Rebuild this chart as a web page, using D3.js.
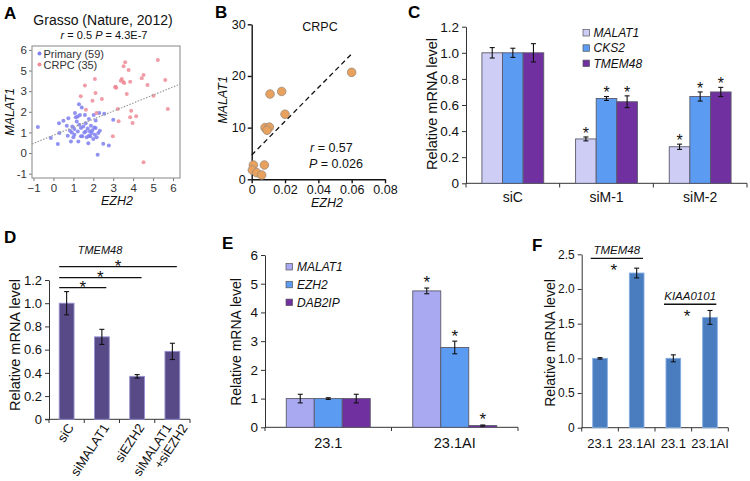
<!DOCTYPE html>
<html><head><meta charset="utf-8">
<script src="https://cdn.jsdelivr.net/npm/d3@7"></script>
<style>
body{margin:0;background:#fff;}
svg{display:block;font-family:"Liberation Sans",Arial,sans-serif;}
</style></head><body>
<svg id="chart" width="750" height="481"></svg>
<script>
// ================= DATA =================
// Panel A  (Grasso, Nature 2012)
const aXTicks = [-1,0,1,2,3,4,5,6];
const aYTicks = [-1,0,1,2,3,4,5];
const aYTickLabels = ["-1","0","1","2","3","5","6"];
const aPrimary = [[-0.78,1.26],[-0.13,0.73],[0.22,0.44],[0.28,1.45],[0.67,1.32],[0.72,0.84],[0.83,1.08],[0.88,0.56],[0.92,1.0],[0.95,1.29],[1.0,0.76],[1.05,1.16],[1.08,1.94],[1.12,1.74],[1.17,1.53],[1.22,1.05],[1.25,0.56],[1.28,2.37],[1.3,1.37],[1.33,1.85],[1.38,1.21],[1.42,2.21],[1.45,0.81],[1.5,1.29],[1.55,1.0],[1.58,1.85],[1.62,1.45],[1.67,0.77],[1.72,1.19],[1.75,0.48],[1.78,1.65],[1.83,1.05],[1.85,0.81],[1.88,1.32],[1.92,0.97],[1.95,1.1],[2.0,0.68],[2.02,1.85],[2.05,1.24],[2.08,0.89],[2.12,1.58],[2.17,0.77],[2.22,-0.08],[2.25,0.97],[2.3,1.94],[2.33,1.08],[2.5,0.45],[2.55,1.9],[2.78,0.37],[3.0,1.61],[0.5,1.56],[0.3,0.97],[0.75,1.69],[1.05,0.89],[1.62,1.05],[1.38,0.81],[1.78,0.84],[2.12,1.21],[1.22,1.77]];
const aCRPC = [[3.6,4.4],[3.52,4.21],[3.77,4.03],[3.43,3.59],[3.38,3.51],[3.55,3.4],[3.85,3.46],[3.1,3.19],[3.15,3.16],[2.43,2.62],[3.68,2.86],[3.23,2.14],[3.9,2.05],[3.85,1.73],[4.15,1.78],[3.97,1.46],[3.27,1.54],[2.98,0.81],[4.43,3.63],[4.52,3.79],[4.72,3.3],[5.24,4.51],[5.61,3.54],[5.74,2.14],[5.02,2.78],[4.52,-0.45],[2.08,3.59],[1.58,3.27],[2.11,2.91],[1.37,2.75],[1.96,2.54],[1.63,2.1],[2.16,1.94],[3.12,3.22],[3.5,3.45]];
const aFit = [[-1.075,0.44],[6.35,3.34]];
const aLegend = ["Primary (59)","CRPC (35)"];

// Panel B  (CRPC)
const bEZH2   = [0.060,0.011,0.018,0.020,0.008,0.0106,0.0092,0.001,0.0076,0.0004,0.003,0.006];
const bMALAT1 = [20.7,16.5,17.0,12.6,10.0,10.1,9.5,2.77,2.77,1.8,1.28,0.83];
const bFit = [[0,4.7],[0.0604,24.4]];
const bXTicks = [0,0.02,0.04,0.06,0.08];
const bYTicks = [0,10,20,30];

// Panel C
const cGroups = ["siC","siM-1","siM-2"];
const cGenes  = ["MALAT1","CKS2","TMEM48"];
const cMean = [[1.00,1.00,1.00],[0.34,0.65,0.625],[0.28,0.665,0.70]];
const cErr  = [[0.04,0.035,0.07],[0.015,0.015,0.045],[0.02,0.035,0.035]];
const cStar = [[0,0,0],[1,1,1],[1,1,1]];
const cYTicks = [0,0.2,0.4,0.6,0.8,1.0,1.2];

// Panel D
const dLabels = [["siC"],["siMALAT1"],["siEZH2"],["siMALAT1","+siEZH2"]];
const dMean = [1.0,0.71,0.37,0.585];
const dErr  = [0.1,0.065,0.015,0.07];
const dComparisons = [[0,3],[0,2],[0,1]];
const dYTicks = [0,0.2,0.4,0.6,0.8,1.0,1.2];

// Panel E
const eGroups = ["23.1","23.1AI"];
const eGenes  = ["MALAT1","EZH2","DAB2IP"];
const eMean = [[1,1,1],[4.75,2.78,0.06]];
const eErr  = [[0.15,0.03,0.15],[0.1,0.22,0.02]];
const eStar = [[0,0,0],[1,1,1]];
const eYTicks = [0,1,2,3,4,5,6];

// Panel F
const fLabels = ["23.1","23.1AI","23.1","23.1AI"];
const fMean = [1.0,2.23,1.0,1.59];
const fErr  = [0.01,0.07,0.05,0.1];
const fGenes = ["TMEM48","KIAA0101"];
const fPairs = [[0,1],[2,3]];
const fLineLevel = [2.44,1.78];
const fYTicks = [0,0.5,1.0,1.5,2.0,2.5];

// ================= DRAW =================
const svg = d3.select("#chart");
svg.append("rect").attr("width",750).attr("height",481).attr("fill","#fff");
const FONT = '"Liberation Sans",Arial,sans-serif';

function styleAxis(g, fs, color, lineColor, sw){
  g.selectAll("text").attr("font-size",fs).attr("fill",color).attr("font-family",FONT);
  g.selectAll("line").attr("stroke",lineColor).attr("stroke-width",sw||1);
  g.selectAll("path.domain").attr("stroke",lineColor).attr("stroke-width",sw||1);
}
function panelLetter(t,x,y){
  svg.append("text").attr("x",x).attr("y",y).text(t)
    .attr("font-size",17).attr("font-weight","bold").attr("fill","#000");
}
function yLabel(t,x,cy,fs,italic){
  svg.append("text").attr("transform",`translate(${x},${cy}) rotate(-90)`)
    .attr("text-anchor","middle").attr("font-size",fs).attr("fill","#111")
    .attr("font-style",italic?"italic":"normal").text(t);
}
function star(x,cy,fs){
  svg.append("text").attr("x",x).attr("y",cy+fs*0.55).attr("text-anchor","middle")
    .attr("font-size",fs).attr("fill","#111").text("*");
}
function errBar(g,x,y1,y2,cap){
  g.append("line").attr("x1",x).attr("x2",x).attr("y1",y1).attr("y2",y2).attr("stroke","#111").attr("stroke-width",1.1);
  g.append("line").attr("x1",x-cap).attr("x2",x+cap).attr("y1",y1).attr("y2",y1).attr("stroke","#111").attr("stroke-width",1.1);
  g.append("line").attr("x1",x-cap).attr("x2",x+cap).attr("y1",y2).attr("y2",y2).attr("stroke","#111").attr("stroke-width",1.1);
}

// ---------- Panel A ----------
{
  panelLetter("A",4,19);
  const xA = d3.scaleLinear().domain([-1.075,6.35]).range([32,180]);
  const yA = d3.scaleLinear().domain([-1.21,5.19]).range([178,46]);
  const g = svg.append("g");
  g.append("text").attr("x",103).attr("y",24.5).attr("text-anchor","middle")
    .attr("font-size",14).attr("fill","#111").text("Grasso (Nature, 2012)");
  const st = g.append("text").attr("x",104).attr("y",38.5).attr("text-anchor","middle")
    .attr("font-size",11).attr("fill","#111");
  st.append("tspan").attr("font-style","italic").text("r");
  st.append("tspan").text(" = 0.5 ");
  st.append("tspan").attr("font-style","italic").text("P");
  st.append("tspan").text(" = 4.3E-7");

  const ax = g.append("g").attr("transform","translate(0,178)")
    .call(d3.axisBottom(xA).tickValues(aXTicks).tickFormat(d3.format("d")).tickSize(3).tickPadding(3));
  ax.select(".domain").remove();
  styleAxis(ax,11.5,"#333","#777");
  const ay = g.append("g").attr("transform","translate(32,0)")
    .call(d3.axisLeft(yA).tickValues(aYTicks).tickFormat((d,i)=>aYTickLabels[i]).tickSize(3).tickPadding(2));
  ay.select(".domain").remove();
  styleAxis(ay,11.5,"#333","#777");

  g.append("rect").attr("x",32).attr("y",46).attr("width",148).attr("height",132)
    .attr("fill","none").attr("stroke","#9a9a9a").attr("stroke-width",1.2);

  g.selectAll(".pp").data(aPrimary).join("circle")
    .attr("cx",d=>xA(d[0])).attr("cy",d=>yA(d[1])).attr("r",2)
    .attr("fill","#7f7ff0").attr("opacity",0.85);
  g.selectAll(".cp").data(aCRPC).join("circle")
    .attr("cx",d=>xA(d[0])).attr("cy",d=>yA(d[1])).attr("r",2)
    .attr("fill","#ee8c98").attr("opacity",0.85);

  g.append("path").datum(aFit)
    .attr("d",d3.line().x(d=>xA(d[0])).y(d=>yA(d[1])))
    .attr("stroke","#999").attr("stroke-width",1.2).attr("stroke-dasharray","1.5,1.5").attr("fill","none");

  const legCol = ["#7f7ff0","#ee8c98"];
  aLegend.forEach((t,i)=>{
    g.append("circle").attr("cx",39.5).attr("cy",53.5+i*11).attr("r",2).attr("fill",legCol[i]);
    g.append("text").attr("x",43.5).attr("y",57.5+i*11).attr("font-size",11).attr("fill","#333").text(t);
  });
  yLabel("MALAT1",14,112,12.5,true);
  g.append("text").attr("x",117).attr("y",205).attr("text-anchor","middle")
    .attr("font-size",12.5).attr("font-style","italic").attr("fill","#111").text("EZH2");
}

// ---------- Panel B ----------
{
  panelLetter("B",215,18);
  const xB = d3.scaleLinear().domain([0,0.08]).range([251.7,385]);
  const yB = d3.scaleLinear().domain([0,30]).range([179.3,24.3]);
  const g = svg.append("g");
  const ax = g.append("g").attr("transform","translate(0,179.3)")
    .call(d3.axisBottom(xB).tickValues(bXTicks).tickFormat(d=>d===0?"0":d.toFixed(2)).tickSize(4).tickSizeOuter(0).tickPadding(2));
  styleAxis(ax,12.5,"#111","#111",1.4);
  const ay = g.append("g").attr("transform","translate(251.7,0)")
    .call(d3.axisLeft(yB).tickValues(bYTicks).tickFormat(d3.format("d")).tickSize(4).tickSizeOuter(0).tickPadding(2));
  styleAxis(ay,12.5,"#111","#111",1.4);

  g.append("path").datum(bFit)
    .attr("d",d3.line().x(d=>xB(d[0])).y(d=>yB(d[1])))
    .attr("stroke","#111").attr("stroke-width",1.3).attr("stroke-dasharray","5,3.5").attr("fill","none");
  g.selectAll(".bp").data(bEZH2).join("circle")
    .attr("cx",d=>xB(d)).attr("cy",(d,i)=>yB(bMALAT1[i])).attr("r",4.3)
    .attr("fill","#e9a25d").attr("stroke","#9a8a7a").attr("stroke-width",0.8);

  g.append("text").attr("x",320).attr("y",31).attr("text-anchor","middle")
    .attr("font-size",12.5).attr("fill","#111").text("CRPC");
  const t1 = g.append("text").attr("x",310).attr("y",152).attr("font-size",12.5).attr("fill","#111");
  t1.append("tspan").attr("font-style","italic").text("r");
  t1.append("tspan").text(" = 0.57");
  const t2 = g.append("text").attr("x",309).attr("y",168).attr("font-size",12.5).attr("fill","#111");
  t2.append("tspan").attr("font-style","italic").text("P");
  t2.append("tspan").text(" = 0.026");
  yLabel("MALAT1",227,100,12.5,true);
  g.append("text").attr("x",327).attr("y",207).attr("text-anchor","middle")
    .attr("font-size",12.5).attr("font-style","italic").attr("fill","#111").text("EZH2");
}

// ---------- Panel C ----------
{
  panelLetter("C",408,18);
  const colors = ["#cdcdf6","#5c9bf2","#7030a0"];
  const yC = d3.scaleLinear().domain([0,1.2]).range([183.3,26.7]);
  const xC = d3.scaleBand().domain(cGroups).range([466,747]).paddingInner(0.34).paddingOuter(0.17);
  const xCi = d3.scaleBand().domain(cGenes).range([0,xC.bandwidth()]);
  const g = svg.append("g");
  const ay = g.append("g").attr("transform","translate(466,0)")
    .call(d3.axisLeft(yC).tickValues(cYTicks).tickFormat(d=>d===0?"0":d.toFixed(1)).tickSize(4).tickSizeOuter(0).tickPadding(3));
  styleAxis(ay,13.5,"#111","#333");
  g.append("line").attr("x1",466).attr("x2",747).attr("y1",183.3).attr("y2",183.3).attr("stroke","#333");
  d3.range(cGroups.length+1).forEach(i=>{
    const x = xC.range()[0]+i*xC.step();
    g.append("line").attr("x1",x).attr("x2",x).attr("y1",183.3).attr("y2",187.5).attr("stroke","#333");
  });
  cGroups.forEach((grp,gi)=>{
    g.append("text").attr("x",xC(grp)+xC.bandwidth()/2).attr("y",202).attr("text-anchor","middle")
      .attr("font-size",14).attr("fill","#111").text(grp);
    cGenes.forEach((gene,si)=>{
      const x = xC(grp)+xCi(gene);
      const v = cMean[gi][si], e = cErr[gi][si];
      g.append("rect").attr("x",x).attr("y",yC(v)).attr("width",xCi.bandwidth()).attr("height",yC(0)-yC(v))
        .attr("fill",colors[si]).attr("stroke","#5a5a6a").attr("stroke-width",0.9);
      errBar(g,x+xCi.bandwidth()/2,yC(v+e),yC(v-e),2.5);
      if(cStar[gi][si]) star(x+xCi.bandwidth()/2,yC(v+e)-7,16);
    });
  });
  cGenes.forEach((gene,i)=>{
    g.append("rect").attr("x",583).attr("y",29.5+i*15.3).attr("width",6.5).attr("height",6.5)
      .attr("fill",colors[i]).attr("stroke","#555").attr("stroke-width",0.7);
    g.append("text").attr("x",593.5).attr("y",37+i*15.3).attr("font-size",12).attr("font-style","italic")
      .attr("fill","#111").text(gene);
  });
  yLabel("Relative mRNA level",437,104,14.5,false);
}

// ---------- Panel D ----------
{
  panelLetter("D",4,243);
  const yD = d3.scaleLinear().domain([0,1.2]).range([419.3,280]);
  const xD = d3.scaleBand().domain(d3.range(dMean.length)).range([49,190]).paddingInner(0.58).paddingOuter(0.29);
  const bw = xD.bandwidth();
  const g = svg.append("g");
  const ay = g.append("g").attr("transform","translate(49,0)")
    .call(d3.axisLeft(yD).tickValues(dYTicks).tickFormat(d=>d===0?"0":d.toFixed(1)).tickSize(4).tickSizeOuter(0).tickPadding(3));
  styleAxis(ay,13,"#111","#333");
  g.append("line").attr("x1",45).attr("x2",190).attr("y1",419.3).attr("y2",419.3).attr("stroke","#333");
  d3.range(dMean.length+1).forEach(i=>{
    const x = xD.range()[0]+i*xD.step();
    g.append("line").attr("x1",x).attr("x2",x).attr("y1",419.3).attr("y2",423).attr("stroke","#333");
  });
  dMean.forEach((v,i)=>{
    const x = xD(i);
    g.append("rect").attr("x",x).attr("y",yD(v)).attr("width",bw).attr("height",yD(0)-yD(v))
      .attr("fill","#574a86").attr("stroke","#9590d0").attr("stroke-width",0.9);
    errBar(g,x+bw/2,yD(v+dErr[i]),yD(v-dErr[i]),2.5);
    const lines = dLabels[i];
    const cx = x+bw/2;
    const t = g.append("text").attr("transform",`translate(${cx+(lines.length>1?-4:4)},${425}) rotate(-57)`)
      .attr("text-anchor","end").attr("font-size",13).attr("fill","#111");
    lines.forEach((s,k)=>{
      t.append("tspan").attr("x",k*8.6).attr("dy",k===0?"0.35em":"1.05em").text(s);
    });
  });
  const levels = [266.7,277.7,287.7];
  dComparisons.forEach((p,k)=>{
    const x1 = xD(p[0]), x2 = xD(p[1])+bw*0.8;
    g.append("line").attr("x1",x1).attr("x2",x2).attr("y1",levels[k]).attr("y2",levels[k])
      .attr("stroke","#111").attr("stroke-width",1.3);
    star((x1+x2)/2,levels[k]-4,17);
  });
  g.append("text").attr("x",100).attr("y",254).attr("text-anchor","middle").attr("font-size",11)
    .attr("font-style","italic").attr("fill","#111").text("TMEM48");
  yLabel("Relative mRNA level",20,345,14.5,false);
}

// ---------- Panel E ----------
{
  panelLetter("E",222,249);
  const colors = ["#a9a9f2","#5c9bf2","#7030a0"];
  const yE = d3.scaleLinear().domain([0,6]).range([427.3,255]);
  const xE = d3.scaleBand().domain(eGroups).range([265,518]).paddingInner(0.336).paddingOuter(0.168);
  const xEi = d3.scaleBand().domain(eGenes).range([0,xE.bandwidth()]);
  const g = svg.append("g");
  const ay = g.append("g").attr("transform","translate(265,0)")
    .call(d3.axisLeft(yE).tickValues(eYTicks).tickFormat(d3.format("d")).tickSize(4).tickSizeOuter(0).tickPadding(3));
  styleAxis(ay,13.5,"#111","#333");
  g.append("line").attr("x1",265).attr("x2",518).attr("y1",427.3).attr("y2",427.3).attr("stroke","#333");
  d3.range(eGroups.length+1).forEach(i=>{
    const x = xE.range()[0]+i*xE.step();
    g.append("line").attr("x1",x).attr("x2",x).attr("y1",427.3).attr("y2",431).attr("stroke","#333");
  });
  eGroups.forEach((grp,gi)=>{
    g.append("text").attr("x",xE(grp)+xE.bandwidth()/2).attr("y",448).attr("text-anchor","middle")
      .attr("font-size",14.5).attr("fill","#111").text(grp);
    eGenes.forEach((gene,si)=>{
      const x = xE(grp)+xEi(gene);
      const v = eMean[gi][si], e = eErr[gi][si];
      g.append("rect").attr("x",x).attr("y",yE(v)).attr("width",xEi.bandwidth()).attr("height",yE(0)-yE(v))
        .attr("fill",colors[si]).attr("stroke","#5a5a6a").attr("stroke-width",0.9);
      errBar(g,x+xEi.bandwidth()/2,yE(v+e),yE(v-e),2.5);
      if(eStar[gi][si]) star(x+xEi.bandwidth()/2,yE(v+e)-9,17);
    });
  });
  eGenes.forEach((gene,i)=>{
    g.append("rect").attr("x",286).attr("y",263.5+i*17.8).attr("width",6.5).attr("height",6.5)
      .attr("fill",colors[i]).attr("stroke","#555").attr("stroke-width",0.7);
    g.append("text").attr("x",297).attr("y",271+i*17.8).attr("font-size",12).attr("font-style","italic")
      .attr("fill","#111").text(gene);
  });
  yLabel("Relative mRNA level",241,342,14,false);
}

// ---------- Panel F ----------
{
  panelLetter("F",532,251);
  const yF = d3.scaleLinear().domain([0,2.5]).range([427.7,254.3]);
  const xF = d3.scaleBand().domain(d3.range(fMean.length)).range([581.7,728.3]).paddingInner(0.6).paddingOuter(0.3);
  const bw = xF.bandwidth();
  const g = svg.append("g");
  const ay = g.append("g").attr("transform","translate(581.7,0)")
    .call(d3.axisLeft(yF).tickValues(fYTicks).tickFormat(d=>d===0?"0":d.toFixed(1)).tickSize(4).tickSizeOuter(0).tickPadding(3));
  styleAxis(ay,12,"#111","#333");
  g.append("line").attr("x1",581.7).attr("x2",728.3).attr("y1",427.7).attr("y2",427.7).attr("stroke","#333");
  d3.range(fMean.length+1).forEach(i=>{
    const x = xF.range()[0]+i*xF.step();
    g.append("line").attr("x1",x).attr("x2",x).attr("y1",427.7).attr("y2",431.5).attr("stroke","#333");
  });
  fMean.forEach((v,i)=>{
    const x = xF(i);
    g.append("rect").attr("x",x).attr("y",yF(v)).attr("width",bw).attr("height",yF(0)-yF(v))
      .attr("fill","#4a7dc0").attr("stroke","#86aee0").attr("stroke-width",0.9);
    errBar(g,x+bw/2,yF(v+fErr[i]),yF(v-fErr[i]),2.5);
    g.append("text").attr("x",x+bw/2).attr("y",448).attr("text-anchor","middle")
      .attr("font-size",13).attr("fill","#111").text(fLabels[i]);
  });
  fPairs.forEach((p,k)=>{
    const x1 = xF(p[0])-2, x2 = xF(p[1])+bw-1, y = yF(fLineLevel[k]);
    g.append("line").attr("x1",x1).attr("x2",x2).attr("y1",y).attr("y2",y).attr("stroke","#111").attr("stroke-width",1.3);
    g.append("text").attr("x",(x1+x2)/2).attr("y",y-4).attr("text-anchor","middle").attr("font-size",11.5)
      .attr("font-style","italic").attr("fill","#111").text(fGenes[k]);
    star((x1+x2)/2-3,y+8,17);
  });
  yLabel("Relative mRNA level",555,343,14,false);
}
</script>
</body></html>
